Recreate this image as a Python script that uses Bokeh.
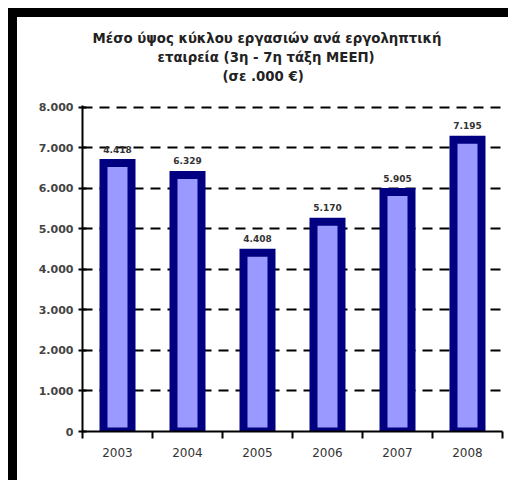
from bokeh.plotting import figure
from bokeh.models import Range1d, FixedTicker, Title, ColumnDataSource
from bokeh.core.properties import value
from bokeh.embed import file_html
from bokeh.resources import INLINE

years = ["2003", "2004", "2005", "2006", "2007", "2008"]
values = [6620, 6329, 4408, 5170, 5905, 7195]
value_labels = ["4.418", "6.329", "4.408", "5.170", "5.905", "7.195"]
y_ticks = [0, 1000, 2000, 3000, 4000, 5000, 6000, 7000, 8000]
y_tick_labels = ["0", "1.000", "2.000", "3.000", "4.000", "5.000", "6.000", "7.000", "8.000"]
title_lines = ["Μέσο ύψος κύκλου εργασιών ανά εργοληπτική",
               "εταιρεία (3η - 7η τάξη ΜΕΕΠ)",
               "(σε .000 €)"]
title_offsets = [10, 75, 140]

FONT = "DejaVu Sans"
xs = [i + 0.5 for i in range(len(years))]
src = ColumnDataSource(dict(x=xs, top=values, lab=value_labels))

p = figure(width=500, height=475, output_backend="svg", toolbar_location=None,
           x_range=Range1d(0, len(years)), y_range=Range1d(0, 8040),
           min_border_left=65, min_border_right=15, min_border_top=88, min_border_bottom=61)
p.styles = {"margin-left": "8px", "margin-top": "8px",
            "border-left": "9px solid black", "border-top": "9px solid black"}
p.outline_line_color = None
p.background_fill_color = "white"
p.border_fill_color = "white"
p.title.visible = False

# dashed grid
p.xgrid.visible = False
p.ygrid.ticker = FixedTicker(ticks=y_ticks[1:])
p.ygrid.grid_line_color = "black"
p.ygrid.grid_line_width = 2
p.ygrid.grid_line_dash = "10 7"

p.vbar(x="x", top="top", width=0.4, bottom=0, source=src,
       fill_color="#9999FF", line_color="#000080", line_width=8, line_join="miter")

p.text(x="x", y="top", text="lab", source=src, y_offset=-14,
       text_align="center", text_baseline="middle", text_font=value(FONT),
       text_font_size="9px", text_font_style="bold", text_color="#333333")

# x axis: labels at centers, ticks at boundaries (minor ticks)
xa = p.xaxis[0]
xa.ticker = FixedTicker(ticks=xs, minor_ticks=list(range(len(years) + 1)))
xa.major_label_overrides = {x: y for x, y in zip(xs, years)}
xa.major_tick_in = 0
xa.major_tick_out = 0
xa.minor_tick_in = 0
xa.minor_tick_out = 7
xa.minor_tick_line_color = "black"
xa.minor_tick_line_width = 2
xa.axis_line_color = "black"
xa.axis_line_width = 2
xa.major_label_standoff = 9
xa.major_label_text_font = FONT
xa.major_label_text_font_size = "12px"
xa.major_label_text_color = "#333333"

ya = p.yaxis[0]
ya.ticker = FixedTicker(ticks=y_ticks)
ya.major_label_overrides = {t: l for t, l in zip(y_ticks, y_tick_labels)}
ya.minor_tick_line_color = None
ya.major_tick_in = 4
ya.major_tick_out = 4
ya.major_tick_line_width = 2
ya.major_tick_line_color = "black"
ya.axis_line_color = "black"
ya.axis_line_width = 2
ya.major_label_standoff = 5
ya.major_label_text_font = FONT
ya.major_label_text_font_size = "11px"
ya.major_label_text_font_style = "bold"
ya.major_label_text_color = "#444444"

# spacer between the title block and the plot
p.add_layout(Title(text=" ", text_font_size="1px", standoff=18), "above")
# title lines: first added is closest to the plot
for line, off in reversed(list(zip(title_lines, title_offsets))):
    p.add_layout(Title(text=line, align="left", offset=off,
                       text_font=FONT, text_font_size="13.3px", text_font_style="bold",
                       text_color="#222222", standoff=2), "above")

open("out.html", "w").write(file_html(p, INLINE))
